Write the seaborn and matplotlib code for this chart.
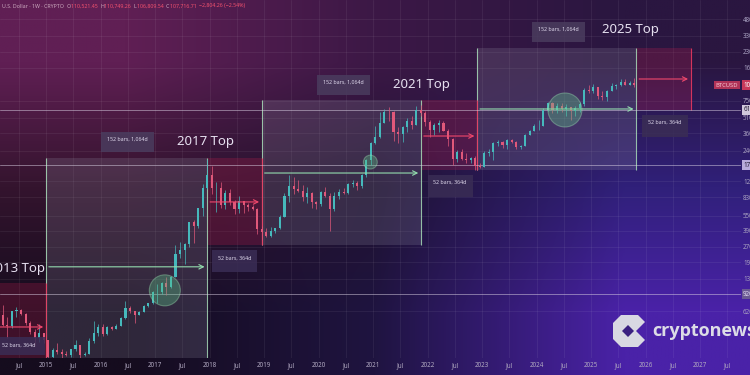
import numpy as np
import pandas as pd
import matplotlib
matplotlib.use("Agg")
import matplotlib.pyplot as plt
from matplotlib.patches import Rectangle, Polygon
from matplotlib.colors import to_rgb
from matplotlib.ticker import NullLocator
import seaborn as sns

# ---- monthly candles (Jan 2014 .. Oct 2025) ----
months = pd.date_range("2014-01-01", "2025-10-01", freq="MS")
first_open = 770
closes = [800, 570, 450, 445, 625, 640, 585, 480, 385, 340, 375, 320,
          220, 255, 245, 235, 230, 263, 285, 230, 236, 315, 378, 430,
          368, 437, 416, 448, 531, 673, 624, 573, 609, 700, 745, 965,
          965, 1190, 1080, 1350, 2300, 2480, 2875, 4700, 4340, 6470, 10200, 13860,
          10200, 10300, 6930, 9240, 7490, 6390, 7730, 7030, 6625, 6320, 4020, 3740,
          3460, 3850, 4100, 5320, 8580, 10820, 10080, 9630, 8300, 9200, 7570, 7200,
          9350, 8540, 6420, 8630, 9450, 9140, 11340, 11650, 10780, 13800, 19700, 28990,
          33100, 45200, 58800, 57700, 37300, 35000, 41500, 47100, 43800, 61300, 57000, 46300,
          38500, 43200, 45500, 37700, 31800, 19900, 23300, 20050, 19400, 20500, 17150, 16550,
          23130, 23150, 28450, 29250, 27200, 30500, 29250, 25950, 26950, 34650, 37700, 42300,
          42600, 61200, 71300, 60700, 67500, 62700, 64600, 58950, 63300, 70200, 96400, 93400,
          102400, 84350, 82550, 94200, 104600, 107100, 115750, 108250, 114050, 107700]
highs = [1000, 700, 720, 550, 630, 680, 660, 600, 500, 415, 460, 380,
         320, 270, 300, 260, 250, 265, 320, 285, 245, 335, 500, 465,
         460, 445, 440, 465, 550, 780, 700, 630, 630, 720, 750, 975,
         1150, 1200, 1350, 1400, 2800, 3000, 2950, 4750, 5000, 6450, 11400, 19800,
         17200, 11800, 11700, 9750, 9990, 7770, 8500, 7750, 7400, 7000, 6550, 4300,
         4100, 4200, 4150, 5600, 9100, 13900, 13200, 12300, 10950, 10500, 9500, 7750,
         9600, 10500, 9200, 9450, 10050, 10400, 11450, 12470, 12050, 14100, 19900, 29300,
         41900, 58300, 61800, 64900, 59500, 41300, 42300, 50500, 52900, 67000, 69000, 59100,
         48000, 45800, 48200, 47500, 39900, 31900, 24700, 25200, 22800, 21000, 21400, 18400,
         23950, 25250, 29200, 31000, 29850, 31400, 31800, 30200, 27500, 35200, 38450, 44700,
         48950, 64000, 73800, 72700, 72000, 72000, 70000, 65000, 66500, 73600, 99600, 108300,
         109600, 102500, 95000, 95750, 111900, 110500, 123200, 124450, 117900, 126200]
lows = [740, 420, 440, 340, 420, 550, 570, 450, 370, 280, 310, 300,
        170, 210, 235, 215, 225, 220, 253, 200, 225, 235, 300, 350,
        350, 365, 405, 410, 440, 520, 600, 480, 570, 605, 690, 740,
        750, 920, 890, 1060, 1350, 2100, 1830, 2700, 2950, 4100, 5500, 10000,
        9000, 5900, 6600, 6450, 7050, 5750, 5830, 5880, 6100, 6200, 3650, 3150,
        3350, 3400, 3700, 4050, 5300, 7450, 9050, 9350, 7700, 7300, 6550, 6450,
        6850, 8450, 3850, 6150, 8100, 8900, 8980, 10600, 9900, 10400, 13200, 17600,
        28100, 32300, 45000, 47000, 30000, 28800, 29300, 37300, 39600, 43300, 53300, 42000,
        32900, 34300, 37200, 37600, 26700, 17600, 18800, 19600, 18150, 18200, 15500, 16250,
        16500, 21400, 19550, 26950, 25800, 24800, 28850, 25150, 24900, 26550, 34100, 37600,
        38550, 41900, 59000, 56500, 56600, 58400, 53500, 49000, 52600, 58900, 66800, 90500,
        89250, 78250, 76600, 74400, 93400, 98200, 105100, 107300, 107300, 102000]

# ---- drawing tools on the chart ----
green_x0 = [2015.0, 2018.96, 2022.91]
green_x1 = [2017.96, 2021.88, 2025.83]
green_top = [20400, 76600, 250000]
green_bot = [150, 2810, 15500]
green_arrow_y = [1710, 14500, 62400]

red_x0 = [2013.92, 2017.96, 2021.88, 2025.83]
red_x1 = [2015.0, 2018.96, 2022.91, 2026.83]
red_top = [1180, 20400, 76600, 250000]
red_bot = [150, 2810, 15500, 61000]
red_arrow_y = [434, 7500, 33700, 123600]

range_x0 = [2016.0, 2019.97, 2023.92]
range_x1 = [2016.98, 2020.94, 2024.89]
range_top = [36900, 135600, 454000]
range_bot = [23400, 85900, 287800]
range_text_y = [31400, 115400, 387000]
range_text = "152 bars, 1,064d"

drop_x0 = [2013.95, 2018.05, 2022.0, 2025.94]
drop_x1 = [2014.98, 2018.87, 2022.83, 2026.77]
drop_top = [344, 2506, 13870, 54300]
drop_bot = [229, 1517, 8400, 32900]
drop_text_x = [2014.49, 2018.46, 2022.41, 2026.35]
drop_text_y = [287, 2090, 11830, 46400]
drop_text = "52 bars, 364d"

top_labels = ["2013 Top", "2017 Top", "2021 Top", "2025 Top"]
top_x = [2014.98, 2017.92, 2021.88, 2025.73]
top_y = [1660, 30000, 110000, 378000]

h_levels = [61000, 17400, 920]
circle_x = [2017.18, 2020.95, 2024.52]
circle_y = [1000, 18600, 61000]
circle_r = [15, 7, 17]

y_ticks = [480000, 330000, 230000, 160000, 75000, 51000, 36000, 24000,
           12000, 8300, 5500, 3900, 2700, 1900, 1300, 620]
x_tick_labels = ["Jul"] + sum([[str(y), "Jul"] for y in range(2015, 2028)], [])
last_close = 107716.71

UP = "#46b9bc"
DOWN = "#e0587a"

sns.set_theme(style="dark")
plt.rcParams['font.family'] = ['Noto Sans', 'DejaVu Sans']

fig = plt.figure(figsize=(7.5, 3.75), dpi=100)

# background gradient
bg_cols = [["#601f54", "#3c1846", "#2a1640"],
           ["#34142e", "#1f1230", "#30207a"],
           ["#150c1e", "#1f1440", "#4a22a8"]]
bg = np.array([[to_rgb(c) for c in row] for row in bg_cols])
bg_ax = fig.add_axes([0, 0, 1, 1])
bg_ax.imshow(bg, aspect="auto", interpolation="bilinear", extent=[0, 1, 0, 1])
bg_ax.axis("off")

ax = fig.add_axes([0, 17 / 375, 741 / 750, 358 / 375])
ax.set_facecolor("none")
ax.set_yscale("log")
ax.set_xlim(2014.156, 2027.75)
ax.set_ylim(214, 748000)
for s in ax.spines.values():
    s.set_visible(False)

# grid + axes labels
xt = np.arange(2014.5, 2027.6, 0.5)
ax.set_xticks(xt)
ax.set_xticklabels(x_tick_labels)
ax.yaxis.tick_right()
ax.set_yticks(y_ticks)
ax.set_yticklabels([f"{v:.2f}" for v in y_ticks])
ax.yaxis.set_minor_locator(NullLocator())
ax.tick_params(axis="x", length=0, pad=3, labelsize=4.5, labelcolor="#b0a8c0")
ax.tick_params(axis="y", length=0, pad=1.5, labelsize=4.5, labelcolor="#a8a0c0")
ax.grid(True, color="#ffffff", alpha=0.07, lw=0.6)

# boxes
for x0, x1, t, b in zip(green_x0, green_x1, green_top, green_bot):
    ax.add_patch(Rectangle((x0, b), x1 - x0, t - b, facecolor="#9a98ac", alpha=0.2, lw=0, zorder=1))
    ax.vlines([x0, x1], b, t, color="#a8dcb8", lw=0.8, alpha=0.85, zorder=2)
for x0, x1, t, b in zip(red_x0, red_x1, red_top, red_bot):
    ax.add_patch(Rectangle((x0, b), x1 - x0, t - b, facecolor="#c02050", alpha=0.25, lw=0, zorder=1))
    ax.vlines([x1], b, t, color="#e8385f", lw=0.8, alpha=0.9, zorder=2)

for v in h_levels:
    ax.axhline(v, color="#ddd4e6", lw=0.7, alpha=0.5, zorder=2)

# candles
xs = np.array(months.year + (months.month - 1) / 12 + 1 / 24)
c = np.array(closes, dtype=float)
o = np.array([first_open] + closes[:-1], dtype=float)
cols = np.where(c >= o, UP, DOWN)
ax.vlines(xs, lows, highs, colors=cols, lw=0.5, zorder=3)
ax.bar(xs, np.abs(c - o), bottom=np.minimum(o, c), width=0.038, color=cols, lw=0, zorder=3)

# arrows
for x0, x1, y in zip(green_x0, green_x1, green_arrow_y):
    ax.annotate("", xy=(x1, y), xytext=(x0, y),
                arrowprops=dict(arrowstyle="->", color="#93dcae", lw=0.8, mutation_scale=8), zorder=4)
for x0, x1, y in zip(red_x0, red_x1, red_arrow_y):
    ax.annotate("", xy=(x1, y), xytext=(x0, y),
                arrowprops=dict(arrowstyle="->", color="#f0486c", lw=0.8, mutation_scale=8), zorder=4)

# circles
sns.scatterplot(x=circle_x, y=circle_y, size=circle_r, sizes=(100, 600), legend=False,
                color="#5cc488", alpha=0.35, edgecolor="#a8f0bc", linewidth=0.8, ax=ax, zorder=4)

# measurement labels
for x0, x1, t, b, ty in zip(range_x0, range_x1, range_top, range_bot, range_text_y):
    ax.add_patch(Rectangle((x0, b), x1 - x0, t - b, facecolor="#4a3c5e", alpha=0.85, lw=0, zorder=5))
    ax.text((x0 + x1) / 2, ty, range_text, ha="center", va="center", fontsize=3.8,
            color="#ddd6ea", zorder=6)
for x0, x1, t, b, tx, ty in zip(drop_x0, drop_x1, drop_top, drop_bot, drop_text_x, drop_text_y):
    ax.add_patch(Rectangle((x0, b), x1 - x0, t - b, facecolor="#3a2d55", alpha=0.85, lw=0, zorder=5))
    ax.text(tx, ty, drop_text, ha="center", va="center", fontsize=3.8, color="#ddd6ea", zorder=6)

for i, (lab, x, y) in enumerate(zip(top_labels, top_x, top_y)):
    ax.text(x, y, lab, ha="right" if i == 0 else "center", va="center", fontsize=9.5,
            color="#e6e0f0", zorder=6)

# price axis highlights
ytr = ax.get_yaxis_transform()
for v, fc, tc in zip(h_levels, ["#d0c8dc", "#b8aadc", "#6a5a92"], ["#201830", "#201830", "#e0d8f0"]):
    ax.text(1.003, v, f"{v:.2f}", transform=ytr, ha="left", va="center", fontsize=4.5, color=tc,
            bbox=dict(boxstyle="square,pad=0.25", fc=fc, ec="none"), zorder=7, clip_on=False)
ax.text(0.966, last_close, "BTCUSD", transform=ytr, ha="left", va="center", fontsize=4.2,
        color="#f4c8d4", bbox=dict(boxstyle="square,pad=0.3", fc="#c8385a", ec="none", alpha=0.85),
        zorder=7, clip_on=False)
ax.text(1.003, last_close, f"{last_close:.2f}", transform=ytr, ha="left", va="center", fontsize=4.5,
        color="#ffffff", bbox=dict(boxstyle="square,pad=0.25", fc="#c8385a", ec="none"),
        zorder=7, clip_on=False)

# header line
pieces = [("U.S. Dollar · 1W · CRYPTO  ", "#c9a6bc"), ("O", "#c9a6bc"), ("110,521.45  ", "#f0506e"),
          ("H", "#c9a6bc"), ("110,749.26  ", "#f0506e"), ("L", "#c9a6bc"), ("106,809.54  ", "#f0506e"),
          ("C", "#c9a6bc"), ("107,716.71  ", "#f0506e"), ("−2,804.26 (−2.54%)", "#f0506e")]
prev = fig.text(0.003, 1 - 6 / 375, pieces[0][0], color=pieces[0][1], fontsize=3.8, va="center")
for s, col in pieces[1:]:
    prev = ax.annotate(s, xy=(1, 0), xycoords=prev, va="bottom", ha="left", color=col,
                       fontsize=3.8, annotation_clip=False)

# cryptonews logo
W, H = 750, 375
logo_outer = [(621, 315), (638, 315), (645, 322), (636, 331), (645, 340), (638, 347),
              (621, 347), (613, 339), (613, 323)]
logo_hole = [(628, 325), (634, 331), (628, 337), (622, 331)]
fig.patches.append(Polygon([(x / W, 1 - y / H) for x, y in logo_outer], closed=True,
                           transform=fig.transFigure, fc="#d8d8e2", ec="none", zorder=10))
fig.patches.append(Polygon([(x / W, 1 - y / H) for x, y in logo_hole], closed=True,
                           transform=fig.transFigure, fc="#3a2080", ec="none", zorder=11))
fig.text(652 / W, 1 - 331 / H, "cryptonews", fontsize=13, fontweight="bold",
         family=["Open Sans", "DejaVu Sans"], color="#dcdce6", ha="left", va="center", zorder=12)

fig.savefig("out.png", dpi=100)
